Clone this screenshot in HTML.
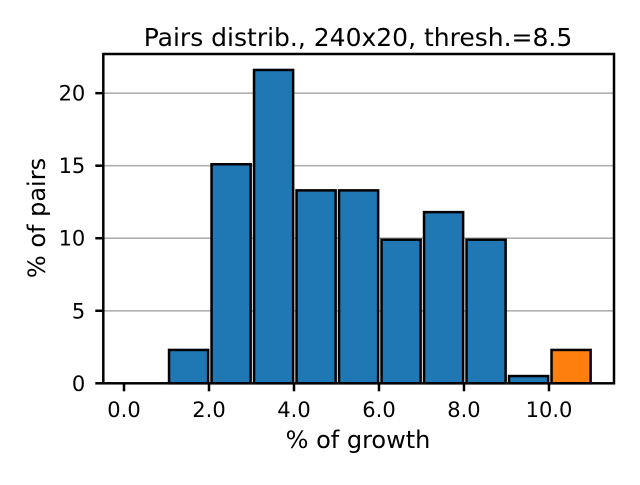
<!DOCTYPE html>
<html><head><meta charset="utf-8"><style>
body{margin:0;background:#fff;}
svg text{font-family:"DejaVu Sans","Liberation Sans",sans-serif;fill:#000;}
</style></head><body>
<svg id="chart" width="640" height="480" xmlns="http://www.w3.org/2000/svg">
<g id="grid"></g><g id="bars"></g><g id="axes"></g>
</svg>
<script>
const binStarts=[0,1,2,3,4,5,6,7,8,9,10];
const pctValues=[0,2.3,15.1,21.6,13.3,13.3,9.9,11.8,9.9,0.5,2.3];
const barColors=["#1f77b4","#1f77b4","#1f77b4","#1f77b4","#1f77b4","#1f77b4","#1f77b4","#1f77b4","#1f77b4","#1f77b4","#ff7f0e"];
const xTicks=[0,2,4,6,8,10];
const xTickLabels=["0.0","2.0","4.0","6.0","8.0","10.0"];
const yTicks=[0,5,10,15,20];
const L=103.3,R=614,T=54,B=383.3;
const xmin=-0.487,xmax=11.53,ymin=0,ymax=22.7;
const sx=v=>L+(v-xmin)/(xmax-xmin)*(R-L);
const sy=v=>B-(v-ymin)/(ymax-ymin)*(B-T);
const NS="http://www.w3.org/2000/svg";
function mk(tag,attrs,parent){const e=document.createElementNS(NS,tag);for(const k in attrs)e.setAttribute(k,attrs[k]);parent.appendChild(e);return e;}
const grid=document.getElementById('grid'),bars=document.getElementById('bars'),axes=document.getElementById('axes');
yTicks.forEach(t=>{
 const g=mk('line',{x1:L,x2:R,y1:sy(t),y2:sy(t),stroke:'#b0b0b0','stroke-width':1.6},grid);
 
 
 const tk=mk('line',{x1:L-8,x2:L,y1:sy(t),y2:sy(t),stroke:'#000','stroke-width':2.5},axes);
 
 
 const tx=mk('text',{x:L-18,y:sy(t)+7.5,'text-anchor':'end','font-size':21},axes);
 tx.textContent=t;
 
 
});
binStarts.forEach((s,i)=>{
 const w=0.92,x0=sx(s+0.52-w/2),x1=sx(s+0.52+w/2);
 const r=mk('rect',{x:x0,y:sy(pctValues[i]),width:x1-x0,height:sy(0)-sy(pctValues[i]),fill:barColors[i],stroke:'#000','stroke-width':2.5},bars);
 
 
});
xTicks.forEach((t,i)=>{
 const tk=mk('line',{x1:sx(t),x2:sx(t),y1:B,y2:B+8,stroke:'#000','stroke-width':2.5},axes);
 
 
 const tx=mk('text',{x:sx(t),y:417,'text-anchor':'middle','font-size':21},axes);
 tx.textContent=xTickLabels[i];
 
 
});
const fr=mk('rect',{x:L,y:T,width:R-L,height:B-T,fill:'none',stroke:'#000','stroke-width':2.5},axes);


const ti=mk('text',{x:358,y:46,'text-anchor':'middle','font-size':25},axes);
ti.textContent='Pairs distrib., 240x20, thresh.=8.5';


const xl=mk('text',{x:358,y:448,'text-anchor':'middle','font-size':24},axes);
xl.textContent='% of growth';


const yl=mk('text',{x:0,y:0,'text-anchor':'middle','font-size':24,transform:'translate(45,218) rotate(-90)'},axes);
yl.textContent='% of pairs';


</script>
</body></html>
